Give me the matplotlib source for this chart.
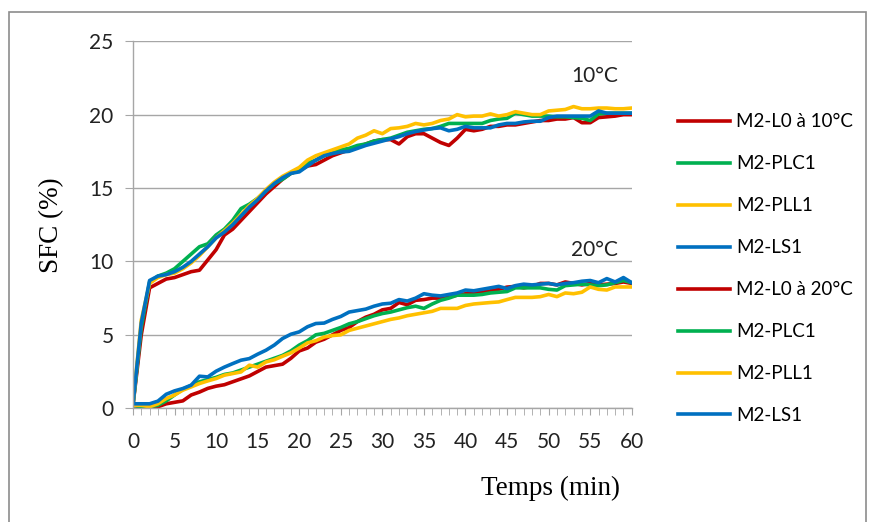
import numpy as np
import matplotlib
matplotlib.use('Agg')
import matplotlib.pyplot as plt
from matplotlib.patches import Rectangle

t = np.arange(0, 61)

# SFC (%) a 10°C
l0_10 = [0.2, 5.0, 8.2, 8.5, 8.8, 8.9, 9.1, 9.3, 9.4, 10.1, 10.8, 11.8, 12.2, 12.8, 13.4, 14.0,
         14.6, 15.1, 15.6, 16.0, 16.2, 16.5, 16.6, 16.9, 17.2, 17.4, 17.6, 17.8, 18.0, 18.2, 18.3,
         18.3, 18.0, 18.5, 18.7, 18.7, 18.4, 18.1, 17.9, 18.4, 19.0, 18.9, 19.0, 19.2, 19.2, 19.3,
         19.3, 19.4, 19.5, 19.6, 19.6, 19.7, 19.7, 19.8, 19.45, 19.45, 19.8, 19.85, 19.9, 20.0, 20.0]
plc1_10 = [0.2, 5.5, 8.6, 9.0, 9.2, 9.5, 10.0, 10.5, 11.0, 11.2, 11.8, 12.2, 12.8, 13.6, 13.9, 14.3,
           14.8, 15.3, 15.6, 16.0, 16.2, 16.7, 16.9, 17.2, 17.4, 17.6, 17.7, 17.9, 18.0, 18.2, 18.3,
           18.4, 18.6, 18.8, 18.9, 19.0, 19.05, 19.2, 19.4, 19.4, 19.4, 19.4, 19.4, 19.6, 19.7, 19.75,
           20.1, 20.0, 19.9, 19.9, 19.9, 19.85, 19.85, 19.8, 19.75, 19.6, 20.05, 20.1, 20.1, 20.1, 20.1]
pll1_10 = [0.2, 6.0, 8.5, 8.9, 9.1, 9.2, 9.5, 9.9, 10.4, 11.0, 11.6, 12.1, 12.6, 13.2, 13.8, 14.3,
           14.9, 15.4, 15.8, 16.1, 16.4, 16.9, 17.2, 17.4, 17.6, 17.8, 18.0, 18.4, 18.6, 18.9, 18.7,
           19.05, 19.1, 19.2, 19.4, 19.3, 19.4, 19.6, 19.7, 20.0, 19.85, 19.9, 19.9, 20.05, 19.9, 20.0,
           20.2, 20.1, 20.0, 20.0, 20.25, 20.3, 20.35, 20.55, 20.4, 20.4, 20.45, 20.45, 20.4, 20.4, 20.45]
ls1_10 = [0.2, 5.8, 8.7, 9.0, 9.1, 9.3, 9.6, 10.0, 10.5, 11.0, 11.6, 12.0, 12.5, 13.1, 13.7, 14.2,
          14.8, 15.3, 15.7, 16.0, 16.1, 16.5, 16.9, 17.2, 17.35, 17.45, 17.5, 17.7, 17.9, 18.05, 18.2,
          18.35, 18.5, 18.7, 18.85, 18.95, 19.05, 19.1, 18.9, 19.0, 19.2, 19.1, 19.1, 19.1, 19.3, 19.4,
          19.4, 19.5, 19.55, 19.55, 19.8, 19.9, 19.9, 19.9, 19.9, 19.9, 20.25, 20.1, 20.1, 20.1, 20.1]

# SFC (%) a 20°C
l0_20 = [0.2, 0.1, 0.0, 0.1, 0.3, 0.4, 0.5, 0.9, 1.1, 1.35, 1.5, 1.6, 1.8, 2.0, 2.2, 2.5,
         2.8, 2.9, 3.0, 3.4, 3.9, 4.1, 4.5, 4.7, 5.0, 5.3, 5.5, 5.9, 6.2, 6.4, 6.7,
         6.8, 7.2, 7.05, 7.35, 7.4, 7.5, 7.5, 7.6, 7.7, 7.8, 7.9, 7.9, 8.0, 8.1, 8.25,
         8.3, 8.2, 8.3, 8.5, 8.5, 8.4, 8.6, 8.5, 8.4, 8.5, 8.4, 8.45, 8.5, 8.6, 8.5]
plc1_20 = [0.2, 0.1, 0.1, 0.2, 0.5, 0.9, 1.3, 1.55, 1.8, 1.95, 2.1, 2.3, 2.4, 2.6, 2.8, 3.0,
           3.2, 3.4, 3.6, 3.9, 4.3, 4.6, 5.0, 5.1, 5.3, 5.5, 5.75, 5.9, 6.1, 6.3, 6.45,
           6.55, 6.7, 6.85, 6.95, 6.8, 7.1, 7.35, 7.5, 7.7, 7.7, 7.7, 7.75, 7.85, 7.9, 7.95,
           8.2, 8.2, 8.2, 8.2, 8.1, 8.05, 8.35, 8.4, 8.45, 8.4, 8.35, 8.4, 8.55, 8.7, 8.55]
pll1_20 = [0.2, 0.2, 0.1, 0.3, 0.66, 0.9, 1.23, 1.45, 1.68, 1.86, 2.02, 2.25, 2.36, 2.47, 2.93, 2.8,
           3.15, 3.3, 3.54, 3.77, 4.1, 4.45, 4.6, 4.85, 4.95, 5.0, 5.3, 5.45, 5.6, 5.75, 5.9,
           6.05, 6.15, 6.3, 6.4, 6.5, 6.6, 6.8, 6.8, 6.8, 7.0, 7.1, 7.15, 7.2, 7.24, 7.4,
           7.55, 7.55, 7.55, 7.6, 7.75, 7.6, 7.85, 7.8, 7.9, 8.26, 8.1, 8.05, 8.26, 8.26, 8.26]
ls1_20 = [0.3, 0.3, 0.3, 0.48, 0.95, 1.18, 1.34, 1.57, 2.18, 2.13, 2.52, 2.8, 3.04, 3.27, 3.38, 3.68,
          3.95, 4.3, 4.75, 5.04, 5.2, 5.55, 5.77, 5.8, 6.05, 6.25, 6.55, 6.65, 6.75, 6.95, 7.1,
          7.15, 7.4, 7.3, 7.5, 7.8, 7.7, 7.65, 7.75, 7.85, 8.05, 8.0, 8.1, 8.2, 8.3, 8.15,
          8.35, 8.45, 8.4, 8.45, 8.5, 8.4, 8.5, 8.55, 8.65, 8.7, 8.55, 8.83, 8.6, 8.9, 8.55]

series = [l0_10, plc1_10, pll1_10, ls1_10, l0_20, plc1_20, pll1_20, ls1_20]
labels = ['M2-L0 à 10°C', 'M2-PLC1', 'M2-PLL1', 'M2-LS1',
          'M2-L0 à 20°C', 'M2-PLC1', 'M2-PLL1', 'M2-LS1']
colors = ['#C00000', '#00B050', '#FFC000', '#0070C0'] * 2

plt.rcParams['font.family'] = ['Lato', 'DejaVu Sans']

fig = plt.figure(figsize=(8.69, 5.22), dpi=100)
ax = fig.add_axes([0.153, 0.218, 0.574, 0.703])

for y, lab, c in zip(series, labels, colors):
    ax.plot(t, y, color=c, lw=2.6, label=lab, solid_joinstyle='round')

ax.set_xlim(0, 60)
ax.set_ylim(0, 25)
ax.set_xticks(np.arange(0, 61, 5))
ax.set_xticks(np.arange(0, 61, 1), minor=True)
ax.set_yticks(np.arange(0, 26, 5))
ax.grid(axis='y', color='#A6A6A6', lw=1.0)
ax.set_axisbelow(True)
for s in ['top', 'right']:
    ax.spines[s].set_visible(False)
for s in ['left', 'bottom']:
    ax.spines[s].set_color('#A6A6A6')
    ax.spines[s].set_linewidth(1.0)
ax.tick_params(axis='y', length=6, color='#A6A6A6', labelsize=15, pad=8, labelcolor='#222222')
ax.tick_params(axis='x', which='both', length=5, color='#A6A6A6', labelsize=15, pad=12, labelcolor='#222222')

ax.set_ylabel('SFC (%)', family='Liberation Serif', fontsize=19.5, labelpad=18)
ax.set_xlabel('Temps (min)', family='Liberation Serif', fontsize=19.5)
ax.xaxis.set_label_coords(0.837, -0.185)

ax.text(0.925, 0.905, '10°C', transform=ax.transAxes, ha='center', va='center', fontsize=15, color='#222222')
ax.text(0.925, 0.43, '20°C', transform=ax.transAxes, ha='center', va='center', fontsize=15, color='#222222')

fig.legend(loc='upper left', bbox_to_anchor=(0.772, 0.797), frameon=False, fontsize=13.5,
           handlelength=2.75, handletextpad=0.35, labelspacing=1.33, borderaxespad=0)

fig.patches.append(Rectangle((9 / 869, -0.01), 857 / 869, 1 - 12 / 522 + 0.01, transform=fig.transFigure,
                             fill=False, edgecolor='#8C8C8C', lw=1.2))

fig.savefig('out.png', dpi=100)
